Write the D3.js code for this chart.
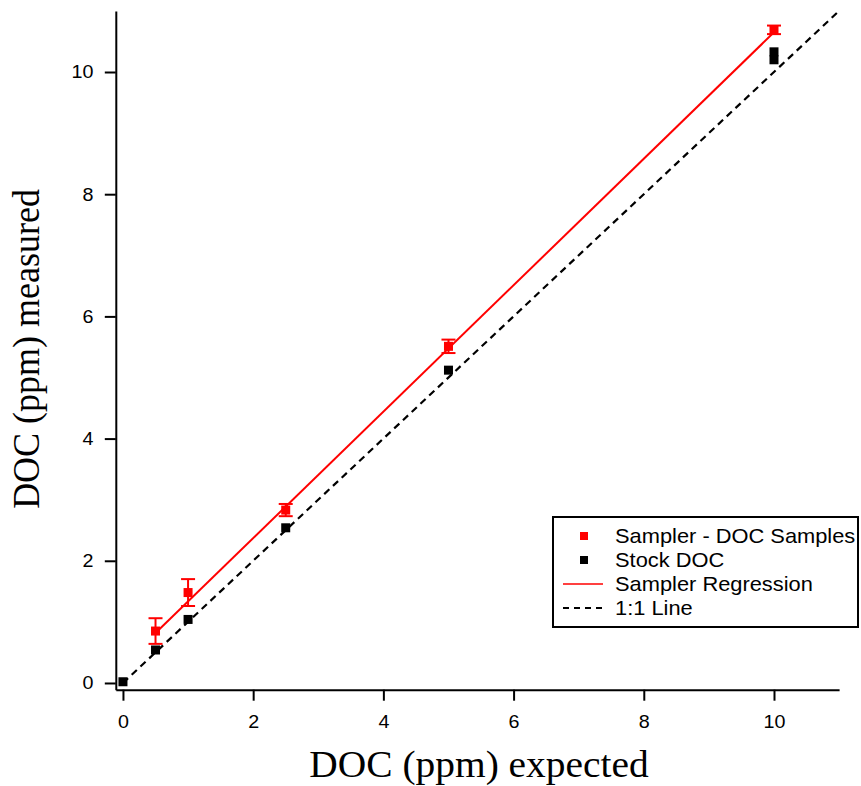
<!DOCTYPE html>
<html>
<head>
<meta charset="utf-8">
<script src="https://cdn.jsdelivr.net/npm/d3@7"></script>
<style>
  html, body { margin: 0; padding: 0; background: #fff; }
  svg { display: block; }
</style>
</head>
<body>
<svg id="chart" width="861" height="786"></svg>
<script>
// Expected concentrations (ppm)
const samplerExpected = [0.5, 1, 2.5, 5, 10];
const samplerMeasured = [0.85, 1.48, 2.83, 5.51, 10.69];
const samplerError    = [0.21, 0.22, 0.10, 0.11, 0.07];

const stockExpected = [0, 0.5, 1, 2.5, 5, 10, 10];
const stockMeasured = [0.02, 0.54, 1.04, 2.54, 5.12, 10.20, 10.33];

// Linear fit of sampler data: measured = slope * expected + intercept
const regression = { slope: 1.035, intercept: 0.30, from: 0.5, to: 10 };

const xTicks = [0, 2, 4, 6, 8, 10];
const yTicks = [0, 2, 4, 6, 8, 10];

const legendItems = [
  { label: "Sampler - DOC Samples", kind: "square", color: "#ff0000" },
  { label: "Stock DOC", kind: "square", color: "#000000" },
  { label: "Sampler Regression", kind: "line", color: "#ff0000" },
  { label: "1:1 Line", kind: "dash", color: "#000000" }
];

const svg = d3.select("#chart");

const x = d3.scaleLinear().domain([-0.11, 11]).range([115.8, 839.1]);
const y = d3.scaleLinear().domain([-0.11, 11]).range([689.7, 10.9]);

// text is drawn slightly wide
const sx = 1.066;
const axisFont = "Arial, 'Liberation Sans', sans-serif";
const titleFont = "'Times New Roman', 'Liberation Serif', serif";

// Axes (offset frame, ticks pointing outward)
const xAxis = svg.append("g")
  .attr("transform", `translate(0,${y.range()[0]})`)
  .call(d3.axisBottom(x).tickValues(xTicks).tickSize(11).tickSizeOuter(0).tickPadding(14));
const yAxis = svg.append("g")
  .attr("transform", `translate(${x.range()[0]},0)`)
  .call(d3.axisLeft(y).tickValues(yTicks).tickSize(11).tickSizeOuter(0).tickPadding(10));

[xAxis, yAxis].forEach(g => {
  g.selectAll("path.domain").attr("stroke", "#000").attr("stroke-width", 2);
  g.selectAll(".tick line").attr("stroke", "#000").attr("stroke-width", 2);
  g.selectAll(".tick text")
    .attr("fill", "#000")
    .attr("transform", `scale(${sx},1)`)
    .style("font-family", axisFont).style("font-size", "18.5px");
});

// 1:1 line
svg.append("line")
  .attr("x1", x(0)).attr("y1", y(0))
  .attr("x2", x(11)).attr("y2", y(11))
  .attr("stroke", "#000").attr("stroke-width", 2.2)
  .attr("stroke-dasharray", "7,5");

// Regression line
svg.append("line")
  .attr("x1", x(regression.from))
  .attr("y1", y(regression.slope * regression.from + regression.intercept))
  .attr("x2", x(regression.to))
  .attr("y2", y(regression.slope * regression.to + regression.intercept))
  .attr("stroke", "#ff0000").attr("stroke-width", 2);

// Stock DOC markers
const sq = 9;
svg.append("g").selectAll("rect")
  .data(stockExpected.map((v, i) => [v, stockMeasured[i]]))
  .join("rect")
  .attr("x", d => x(d[0]) - sq / 2)
  .attr("y", d => y(d[1]) - sq / 2)
  .attr("width", sq).attr("height", sq)
  .attr("fill", "#000");

// Sampler error bars and markers
const sampler = samplerExpected.map((v, i) => ({ x: v, y: samplerMeasured[i], e: samplerError[i] }));
const eb = svg.append("g").attr("stroke", "#ff0000").attr("stroke-width", 2);
sampler.forEach(d => {
  eb.append("line")
    .attr("x1", x(d.x)).attr("x2", x(d.x))
    .attr("y1", y(d.y - d.e)).attr("y2", y(d.y + d.e));
  [d.y - d.e, d.y + d.e].forEach(v => {
    eb.append("line")
      .attr("x1", x(d.x) - 7).attr("x2", x(d.x) + 7)
      .attr("y1", y(v)).attr("y2", y(v));
  });
});
svg.append("g").selectAll("rect")
  .data(sampler)
  .join("rect")
  .attr("x", d => x(d.x) - sq / 2)
  .attr("y", d => y(d.y) - sq / 2)
  .attr("width", sq).attr("height", sq)
  .attr("fill", "#ff0000");

// Axis titles
svg.append("text")
  .attr("transform", `translate(479,777) scale(${sx},1)`)
  .attr("text-anchor", "middle")
  .style("font-family", titleFont).style("font-size", "37px")
  .attr("fill", "#000")
  .text("DOC (ppm) expected");

svg.append("text")
  .attr("transform", `translate(39,349) scale(${sx},1) rotate(-90)`)
  .attr("text-anchor", "middle")
  .style("font-family", titleFont).style("font-size", "36px")
  .attr("fill", "#000")
  .text("DOC (ppm) measured");

// Legend
const lg = svg.append("g").attr("transform", "translate(553,517)");
lg.append("rect")
  .attr("x", 0).attr("y", 0).attr("width", 305).attr("height", 110)
  .attr("fill", "#fff").attr("stroke", "#000").attr("stroke-width", 2);
legendItems.forEach((it, i) => {
  const cy = 19 + i * 24;
  if (it.kind === "square") {
    lg.append("rect").attr("x", 27).attr("y", cy - 4).attr("width", 8).attr("height", 8).attr("fill", it.color);
  } else {
    lg.append("line")
      .attr("x1", 10).attr("x2", 50).attr("y1", cy).attr("y2", cy)
      .attr("stroke", it.color).attr("stroke-width", it.kind === "dash" ? 2 : 1.5)
      .attr("stroke-dasharray", it.kind === "dash" ? "6,5" : null);
  }
  lg.append("text")
    .attr("transform", `translate(62,${cy}) scale(${sx},1)`)
    .attr("dy", "0.36em")
    .style("font-family", axisFont).style("font-size", "20.5px")
    .attr("fill", "#000")
    .text(it.label);
});
</script>
</body>
</html>
